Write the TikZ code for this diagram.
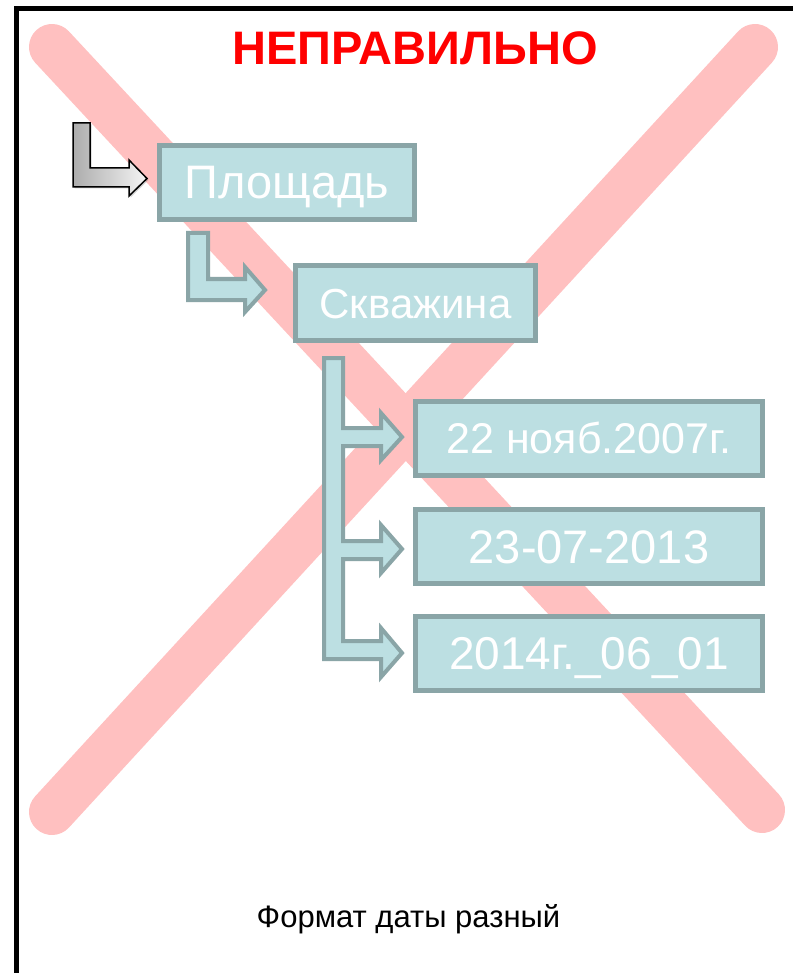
\documentclass[tikz,border=0pt]{standalone}
\usepackage{fontspec}
\setmainfont{Liberation Sans}
\usetikzlibrary{shadows}
\definecolor{xpink}{RGB}{255,192,192}
\definecolor{boxfill}{RGB}{188,223,226}
\definecolor{boxline}{RGB}{138,165,167}
\definecolor{titlered}{RGB}{255,0,0}
\tikzset{
  databox/.style={draw=boxline, line width=5pt, fill=boxfill, text=white,
    inner sep=0pt, text depth=0pt, anchor=center},
  blockarrow/.style={draw=boxline, line width=4pt, fill=boxfill, line join=miter},
  crossbar/.style={xpink, line width=46pt, line cap=round},
}
\begin{document}
\begin{tikzpicture}[x=1pt,y=-1pt]
\useasboundingbox (0,0) rectangle (792,973);
\fill[white] (0,0) rectangle (792,973);
% frame
\draw[black, line width=5pt] (16.5,8.5) rectangle (820,1000);
% red cross
\draw[crossbar] (52,47) -- (762,810);
\draw[crossbar] (755,47) -- (52,812);
% title
\node[font=\fontsize{47}{55}\selectfont\bfseries, text=titlered, anchor=base] (title) at (415,65) {НЕПРАВИЛЬНО};
% gray entry arrow
\draw[black, line width=1.5pt, left color=gray!65, right color=gray!8, line join=miter,
      drop shadow={opacity=0.35, shadow xshift=1.5pt, shadow yshift=-1.5pt}]
  (73,123) -- (90,123) -- (90,168) -- (129,168) -- (129,160) -- (147,178.5)
  -- (129,196) -- (129,187) -- (73,187) -- cycle;
% boxes
\node[databox, minimum width=255pt, minimum height=74pt, text height=33.6pt, font=\fontsize{47}{56}\selectfont] (plosh) at (287,182.2) {Площадь};
\node[databox, minimum width=240pt, minimum height=75pt, text height=30.1pt, font=\fontsize{42}{50}\selectfont] (skv) at (415.5,303) {Скважина};
\node[databox, minimum width=347pt, minimum height=74pt, text height=30.8pt, font=\fontsize{43}{52}\selectfont] (d1) at (589,438.5) {22 нояб.2007г.};
\node[databox, minimum width=347pt, minimum height=74pt, text height=33.6pt, font=\fontsize{47}{56}\selectfont] (d2) at (589,546.5) {23-07-2013};
\node[databox, minimum width=347pt, minimum height=74pt, text height=32.9pt, font=\fontsize{46}{55}\selectfont] (d3) at (589,653.5) {2014г.\_06\_01};
% arrow Площадь -> Скважина
\draw[blockarrow]
  (188,233) -- (208,233) -- (208,279) -- (245,279) -- (245,267) -- (265,290)
  -- (245,312) -- (245,300) -- (188,300) -- cycle;
% branching arrow Скважина -> dates
\draw[blockarrow]
  (324,358) -- (343,358) -- (343,428) -- (381,428) -- (381,413) -- (402,437)
  -- (381,460) -- (381,446) -- (343,446) -- (343,541) -- (381,541) -- (381,525)
  -- (402,549) -- (381,573) -- (381,559) -- (343,559) -- (343,641) -- (381,641)
  -- (381,628) -- (402,653) -- (381,677) -- (381,659) -- (324,659) -- cycle;
% caption
\node[font=\fontsize{31}{37}\selectfont, anchor=base] (caption) at (408.5,927) {Формат даты разный};
\end{tikzpicture}
\end{document}
